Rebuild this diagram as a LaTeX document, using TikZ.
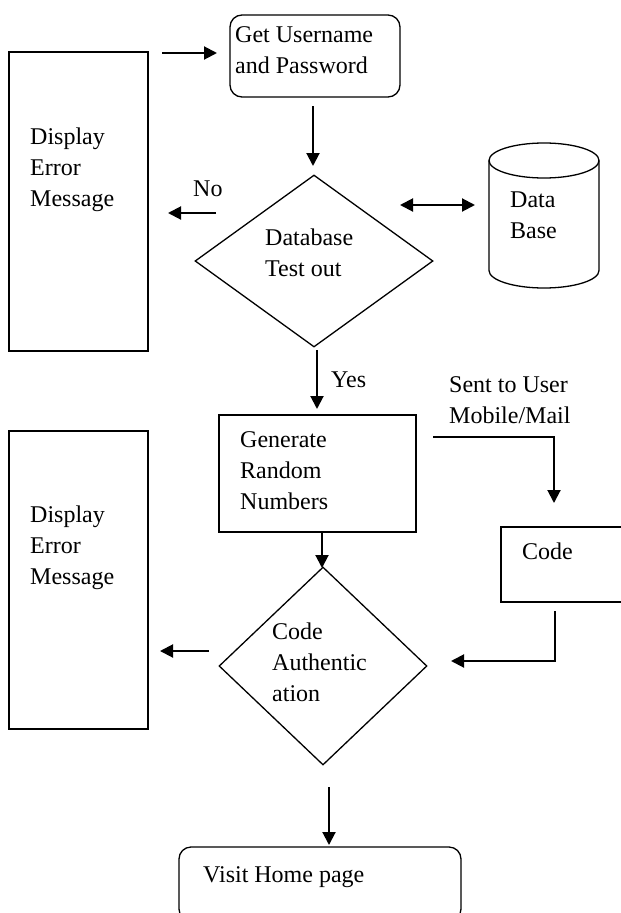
\documentclass[tikz,border=0pt]{standalone}
\usepackage{fontspec}
\setmainfont{Liberation Serif}
\usetikzlibrary{shapes.geometric,arrows.meta}
\newcommand{\mlines}[1]{\begin{tabular}[t]{@{}l@{}}#1\end{tabular}}
\begin{document}
\begin{tikzpicture}[x=1pt,y=-1pt,
  box/.style={draw,line width=1.3pt,inner sep=0pt,rectangle},
  rbox/.style={box,rounded corners=12pt},
  dia/.style={draw,line width=1.3pt,diamond,inner sep=0pt,aspect=1},
  txt/.style={anchor=base west,inner sep=0pt,font=\fontsize{24}{31}\selectfont},
  arr/.style={line width=2pt,-{Triangle[length=13pt,width=13pt]}},
  darr/.style={line width=2pt,{Triangle[length=13pt,width=13pt]}-{Triangle[length=13pt,width=13pt]}}]
\useasboundingbox (0,0) rectangle (621,913);
% shapes
\node[box,minimum width=139pt,minimum height=299pt] (err1) at (78.5,201.5) {};
\node[rbox,minimum width=170pt,minimum height=82pt] (get) at (315,56) {};
\node[dia,minimum width=238pt,minimum height=172pt] (d1) at (314,261) {};
\draw[line width=1.3pt] (489,160.5) -- (489,270.5) arc[start angle=180,end angle=0,x radius=55,y radius=17.5] -- (599,160.5);
\draw[line width=1.3pt] (544,160.5) ellipse[x radius=55,y radius=17.5];
\coordinate (db) at (544,215);
\node[box,minimum width=139pt,minimum height=298pt] (err2) at (78.5,580) {};
\node[box,minimum width=197pt,minimum height=117pt] (gen) at (317.5,473.5) {};
\node[box,minimum width=129pt,minimum height=75pt] (code) at (565.5,564.5) {};
\node[dia,minimum width=208pt,minimum height=198pt] (d2) at (323,666) {};
\node[rbox,minimum width=282pt,minimum height=74pt] (visit) at (320,884) {};
% texts
\node[txt] (t1) at (235,42) {\mlines{Get Username\\and Password}};
\node[txt] (t2) at (30,144) {\mlines{Display\\Error\\Message}};
\node[txt] (tno) at (193,196) {No};
\node[txt] (t3) at (265,245) {\mlines{Database\\Test out}};
\node[txt] (t4) at (510,207) {\mlines{Data\\Base}};
\node[txt] (tyes) at (331,387) {Yes};
\node[txt] (tsent) at (449,392) {\mlines{Sent to User\\Mobile/Mail}};
\node[txt] (t5) at (240,447) {\mlines{Generate\\Random\\Numbers}};
\node[txt] (t6) at (30,522) {\mlines{Display\\Error\\Message}};
\node[txt] (t7) at (522,559) {Code};
\node[txt] (t8) at (272,639) {\mlines{Code\\Authentic\\ation}};
\node[txt] (t9) at (203,882) {Visit Home page};
% connector ends
\coordinate (a1s) at (162,53);  \coordinate (a1e) at (217,53);
\coordinate (a2s) at (313,106); \coordinate (a2e) at (313,166);
\coordinate (a3s) at (216,213); \coordinate (a3e) at (168,213);
\coordinate (a4s) at (400,205); \coordinate (a4e) at (475,205);
\coordinate (a5s) at (317,350); \coordinate (a5e) at (317,409);
\coordinate (a6s) at (433,437); \coordinate (a6m) at (554,437); \coordinate (a6e) at (554,503);
\coordinate (a7s) at (322,532); \coordinate (a7e) at (322,568);
\coordinate (a8s) at (555,611); \coordinate (a8m) at (555,661); \coordinate (a8e) at (451,661);
\coordinate (a9s) at (209,651); \coordinate (a9e) at (160,651);
\coordinate (a10s) at (329,787); \coordinate (a10e) at (329,845);
% connectors
\draw[arr] (a1s) -- (a1e);
\draw[arr] (a2s) -- (a2e);
\draw[arr] (a3s) -- (a3e);
\draw[darr] (a4s) -- (a4e);
\draw[arr] (a5s) -- (a5e);
\draw[arr] (a6s) -- (a6m) -- (a6e);
\draw[arr] (a7s) -- (a7e);
\draw[arr] (a8s) -- (a8m) -- (a8e);
\draw[arr] (a9s) -- (a9e);
\draw[arr] (a10s) -- (a10e);
\end{tikzpicture}
\end{document}
